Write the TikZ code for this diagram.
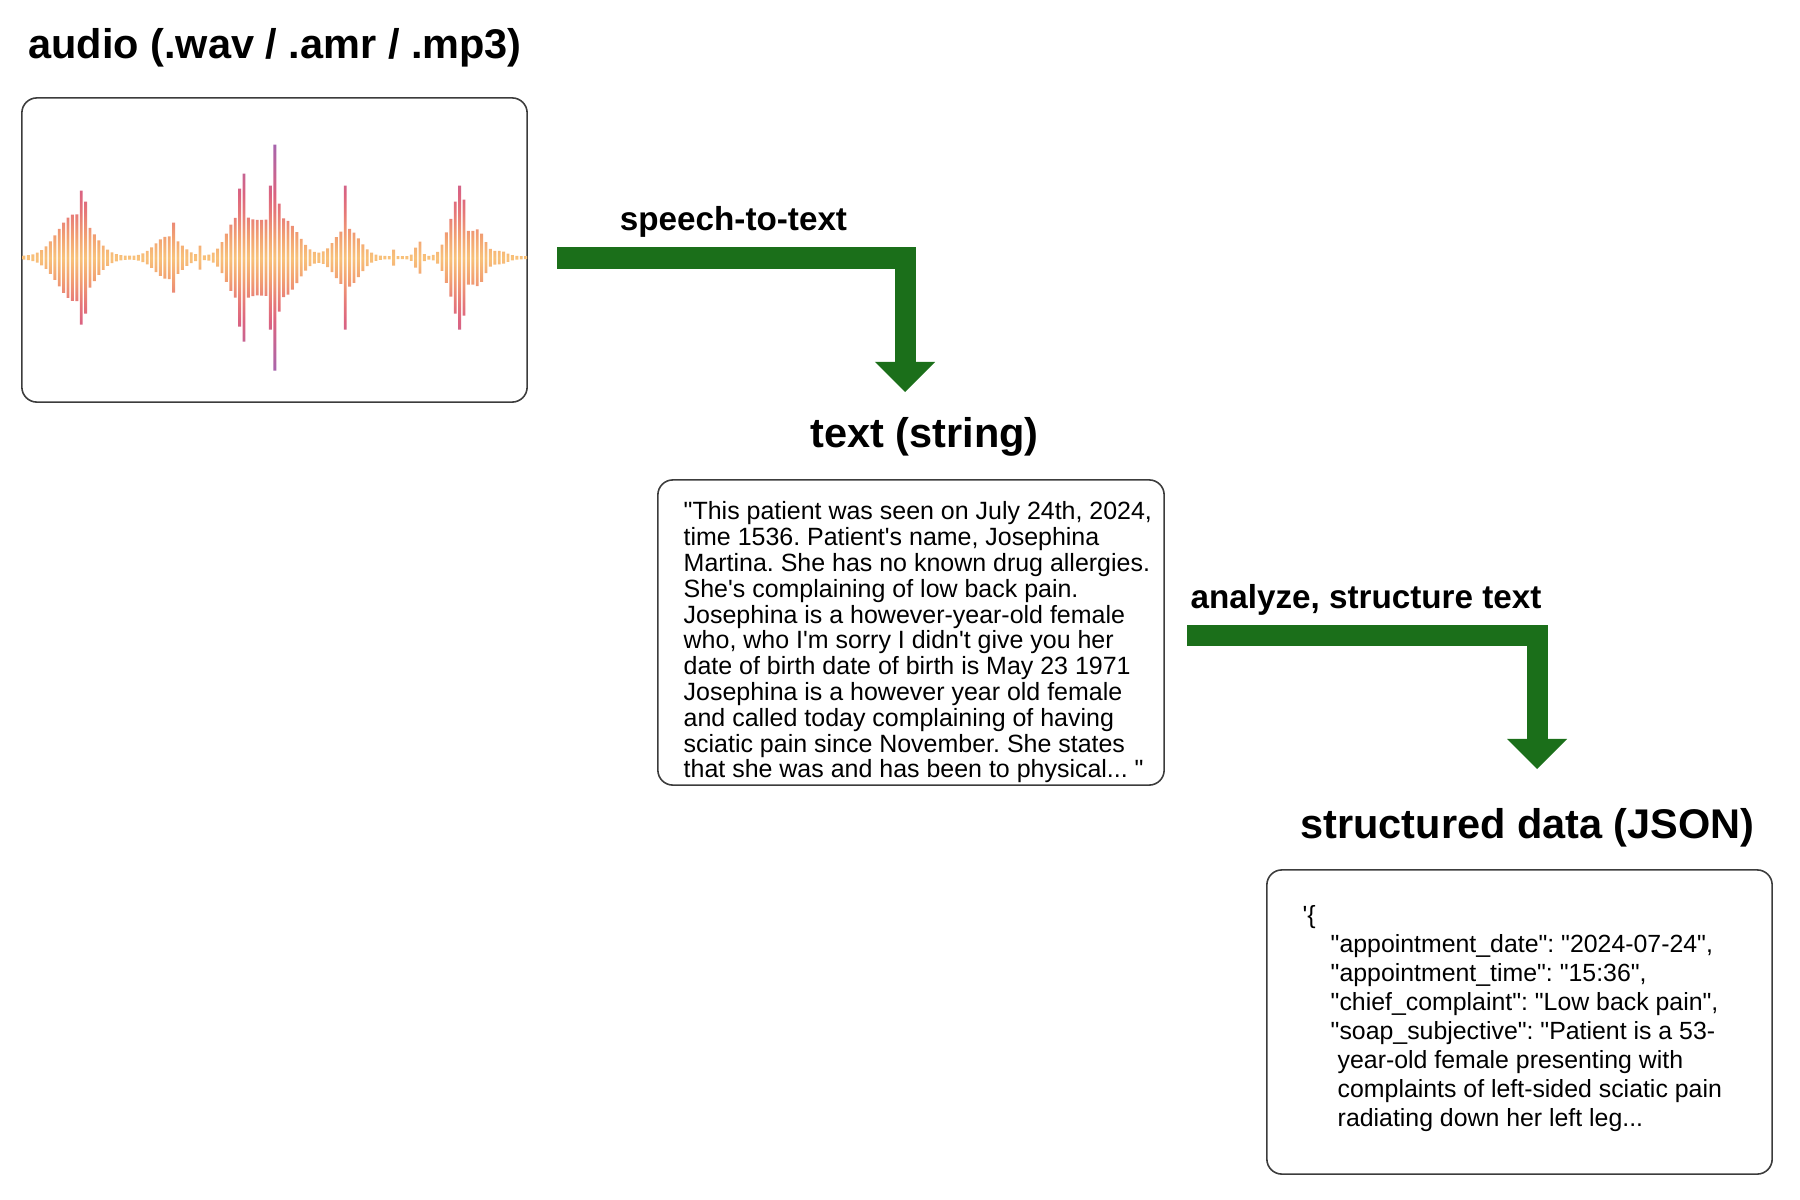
\documentclass[tikz,border=0pt]{standalone}
\usepackage{fontspec}
\setmainfont{Liberation Sans}[Ligatures=TeXOff]
\usetikzlibrary{arrows.meta}
\frenchspacing
\definecolor{flowgreen}{HTML}{1B6F1A}
\definecolor{boxline}{HTML}{3C3C3C}
\definecolor{wavelight}{HTML}{F8C27A}
\definecolor{waveorange}{HTML}{F2A272}
\definecolor{wavesalmon}{HTML}{E67878}
\definecolor{wavepink}{HTML}{DC6480}
\definecolor{wavepurple}{HTML}{A764AC}
\pgfdeclareverticalshading{wavefill}{100bp}{color(0bp)=(wavepurple); color(25bp)=(wavepurple); color(36bp)=(wavepink); color(40bp)=(wavesalmon); color(45.5bp)=(waveorange); color(50bp)=(wavelight); color(54.5bp)=(waveorange); color(60bp)=(wavesalmon); color(64bp)=(wavepink); color(75bp)=(wavepurple); color(100bp)=(wavepurple)}
\begin{document}
\begin{tikzpicture}[x=0.01cm, y=-0.01cm,
    panel/.style={draw=boxline, line width=0.45pt, rounded corners=0.15cm, inner sep=0pt, minimum width=5.05cm, minimum height=3.04cm},
    heading/.style={font=\fontsize{11.8pt}{14pt}\selectfont\bfseries, inner sep=0pt, anchor=base},
    steplabel/.style={font=\fontsize{9.45pt}{11pt}\selectfont\bfseries, inner sep=0pt, anchor=base},
    body/.style={align=left, inner sep=0pt, anchor=north west},
    flow/.style={draw=flowgreen, line width=0.21cm, -{Triangle[width=0.6cm, length=0.3cm, line width=0pt]}},
    declare function={bump(\x,\c,\a,\s)=\a*exp(-min(((\x-\c)/\s)^2,9));
      wave(\x)=1.5+bump(\x,75,42,24)+bump(\x,168,20,18)+bump(\x,238,38,16)+bump(\x,260,22,15)+bump(\x,284,36,20)
        +bump(\x,347,28,17)+bump(\x,418,10,5)+bump(\x,456,45,12)+bump(\x,478,25,10)+bump(\x,500,5,10);}
]
\useasboundingbox (0,0) rectangle (1800,1200);

\node[heading] (audiotitle) at (275,58) {audio (.wav / .amr / .mp3)};
\node[panel] (audiobox) at (274.5,250) {};
\shade[shading=wavefill]
  \foreach \i [evaluate=\i as \wx using 24+4.4*\i, evaluate=\i as \wh using wave(24+4.4*\i)] in {0,...,114} {
    ({\wx-1.45},{257.7-\wh}) rectangle ({\wx+1.45},{257.7+\wh})
  }
  \foreach \i/\wh in {13/67, 14/56, 34/35, 40/12, 49/69, 50/84, 56/72, 57/113, 58/54, 73/72, 84/8, 89/10, 90/16, 98/56, 99/72, 100/58} {
    ({24+4.4*\i-1.45},{257.7-\wh}) rectangle ({24+4.4*\i+1.45},{257.7+\wh})
  };

\node[steplabel] (sttlabel) at (733.5,230) {speech-to-text};
\coordinate (sttfrom) at (557,258);
\coordinate (sttto) at (905,392);
\draw[flow] (sttfrom) -| (sttto);

\node[heading] (texttitle) at (924.5,447) {text (string)};
\node[panel, minimum width=5.06cm, minimum height=3.05cm] (textbox) at (911,632.5) {};
\node[body, font=\fontsize{7.1pt}{7.34pt}\selectfont] (texttxt) at (683,501) {"This patient was seen on July 24th, 2024,\\
time 1536. Patient's name, Josephina\\
Martina. She has no known drug allergies.\\
She's complaining of low back pain.\\
Josephina is a however-year-old female\\
who, who I'm sorry I didn't give you her\\
date of birth date of birth is May 23 1971\\
Josephina is a however year old female\\
and called today complaining of having\\
sciatic pain since November. She states\\
that she was and has been to physical... "};

\node[steplabel] (analyzelabel) at (1366,608) {analyze, structure text};
\coordinate (analyzefrom) at (1187,635.5);
\coordinate (analyzeto) at (1537,769);
\draw[flow] (analyzefrom) -| (analyzeto);

\node[heading] (jsontitle) at (1527.5,838) {structured data (JSON)};
\node[panel] (jsonbox) at (1519.5,1022) {};
\node[body, font=\fontsize{7.07pt}{8.25pt}\selectfont] (jsontxt) at (1302,905) {'\{\\
\hspace*{0.28cm}"appointment\_date": "2024-07-24",\\
\hspace*{0.28cm}"appointment\_time": "15:36",\\
\hspace*{0.28cm}"chief\_complaint": "Low back pain",\\
\hspace*{0.28cm}"soap\_subjective": "Patient is a 53-\\
\hspace*{0.35cm}year-old female presenting with\\
\hspace*{0.35cm}complaints of left-sided sciatic pain\\
\hspace*{0.35cm}radiating down her left leg...};
\end{tikzpicture}
\end{document}
